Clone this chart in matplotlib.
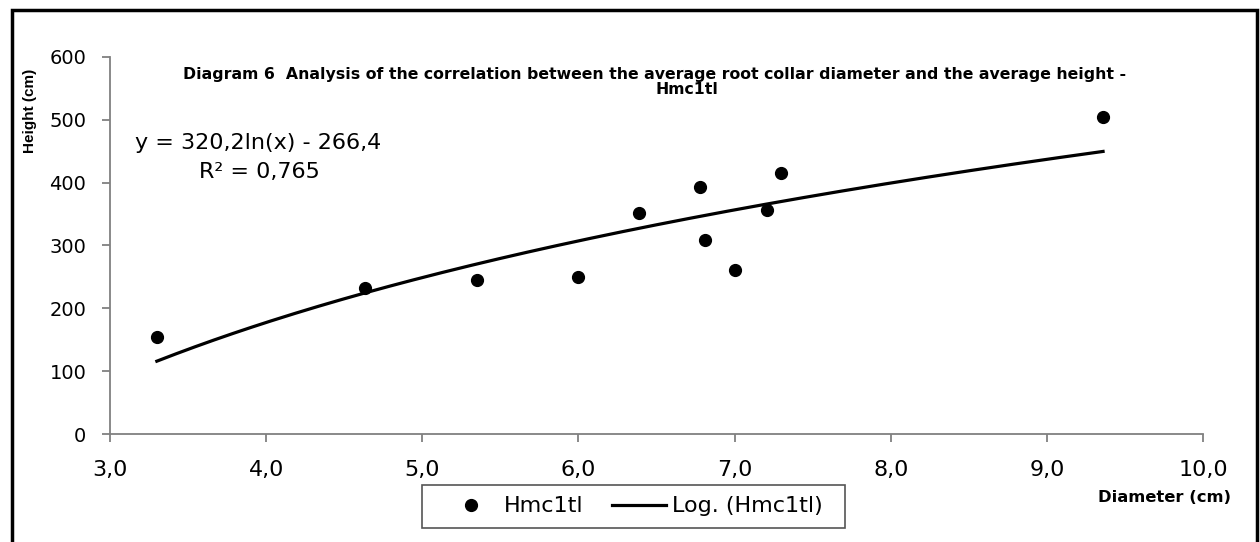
import numpy as np
import matplotlib.pyplot as plt
from matplotlib.patches import Rectangle
from matplotlib.ticker import FuncFormatter

# values
diameter = [3.30, 4.63, 5.35, 6.00, 6.39, 6.78, 6.81, 7.00, 7.21, 7.30, 9.36]
height = [155, 232, 245, 250, 351, 393, 308, 261, 357, 415, 504]

# Excel log trendline, coefficients as printed on the chart
trend_slope = 320.2
trend_intercept = -266.4

x_ticks = [3.0, 4.0, 5.0, 6.0, 7.0, 8.0, 9.0, 10.0]
y_ticks = [0, 100, 200, 300, 400, 500, 600]

W, H = 1260, 542
fig = plt.figure(figsize=(W / 100, H / 100), dpi=100)
fig.patch.set_facecolor("white")

ax = fig.add_axes([110 / W, 108 / H, (1203 - 110) / W, (434 - 57) / H])

trend_x = np.linspace(min(diameter), max(diameter), 200)
trend_y = trend_slope * np.log(trend_x) + trend_intercept

ax.plot(diameter, height, "o", color="black", markersize=8.5, label="Hmc1tl", zorder=3)
ax.plot(trend_x, trend_y, "-", color="black", linewidth=2.3, label="Log. (Hmc1tl)")

ax.set_xlim(3, 10)
ax.set_ylim(0, 600)
ax.set_xticks(x_ticks)
ax.set_yticks(y_ticks)
ax.xaxis.set_major_formatter(FuncFormatter(lambda v, p: f"{v:.1f}".replace(".", ",")))

for side in ["top", "right"]:
    ax.spines[side].set_visible(False)
for side in ["left", "bottom"]:
    ax.spines[side].set_color("#808080")
    ax.spines[side].set_linewidth(1.3)

ax.tick_params(axis="both", direction="out", length=6, width=1.3, color="#808080", labelcolor="black")
ax.tick_params(axis="y", labelsize=14, pad=11)
ax.tick_params(axis="x", labelsize=16, pad=13)

# title, axis labels and equation placed like the original
fig.text(655 / W, 1 - 75 / H,
         "Diagram 6  Analysis of the correlation between the average root collar diameter and the average height -",
         ha="center", va="center", fontsize=11.3, fontweight="bold")
fig.text(687 / W, 1 - 90 / H, "Hmc1tl", ha="center", va="center", fontsize=11.3, fontweight="bold")
fig.text(30 / W, 1 - 111 / H, "Height (cm)", rotation=90, ha="center", va="center",
         fontsize=11, fontweight="bold", family="Liberation Sans")
fig.text(1165 / W, 1 - 497 / H, "Diameter (cm)", ha="center", va="center",
         fontsize=11.8, fontweight="bold")
fig.text(258 / W, 1 - 143 / H, "y = 320,2ln(x) - 266,4", ha="center", va="center", fontsize=16)
fig.text(259 / W, 1 - 172 / H, "R² = 0,765", ha="center", va="center", fontsize=16)

# legend box below the axes
fig.patches.append(Rectangle((422 / W, 1 - 528 / H), (845 - 422) / W, (528 - 485) / H,
                             transform=fig.transFigure, facecolor="white",
                             edgecolor="#555555", linewidth=1.2))
handles, labels = ax.get_legend_handles_labels()
fig.legend(handles, labels, loc="center", ncol=2, frameon=False, fontsize=16,
           bbox_to_anchor=((422 + 845) / 2 / W, 1 - (485 + 528) / 2 / H),
           handlelength=2.4, handletextpad=0.3, columnspacing=1.3, borderpad=0)

# thick outer frame (bottom edge falls outside the image)
fig.patches.append(Rectangle((12 / W, -0.05), (1257 - 12) / W, 1.05 - 10 / H,
                             transform=fig.transFigure, fill=False,
                             edgecolor="black", linewidth=2.5))

fig.savefig("out.png", dpi=100)
